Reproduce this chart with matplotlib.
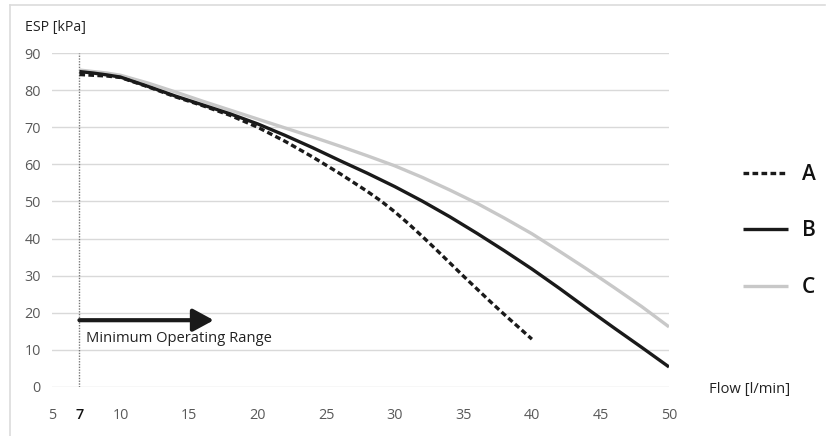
import matplotlib
matplotlib.use("Agg")
import matplotlib.pyplot as plt
from matplotlib.lines import Line2D

plt.rcParams['font.family'] = ['Open Sans', 'DejaVu Sans']

# Data
flow_a = [7, 8, 9, 10, 12, 14, 16, 18, 20, 22, 24, 26, 28, 29, 30, 31, 32, 33, 34, 35, 36, 37, 38, 39, 40]
esp_a = [84.2, 84.0, 83.8, 83.4, 80.9, 78.2, 75.8, 73.2, 70.0, 66.2, 62.0, 57.5, 52.7, 50.1,
         47.2, 44.0, 40.6, 37.1, 33.5, 29.9, 26.4, 22.9, 19.5, 16.2, 12.9]

flow_b = [7, 8, 9, 10, 12, 14, 16, 18, 20, 22, 24, 26, 28, 30, 32, 34, 36, 38, 40, 42, 44, 46, 48, 50]
esp_b = [85.0, 84.6, 84.1, 83.5, 81.0, 78.4, 76.0, 73.6, 70.9, 67.8, 64.5, 61.0, 57.6, 54.0,
         50.1, 45.9, 41.4, 36.7, 31.8, 26.6, 21.2, 15.9, 10.7, 5.4]

flow_c = [7, 8, 9, 10, 12, 14, 16, 18, 20, 22, 24, 26, 28, 30, 32, 34, 36, 38, 40, 42, 44, 46, 48, 50]
esp_c = [85.4, 85.0, 84.6, 84.0, 81.9, 79.5, 77.0, 74.6, 72.2, 69.8, 67.4, 64.9, 62.3, 59.6,
         56.5, 53.1, 49.5, 45.5, 41.3, 36.6, 31.8, 26.8, 21.7, 16.2]

x_ticks = [5, 7, 10, 15, 20, 25, 30, 35, 40, 45, 50]
y_ticks = [0, 10, 20, 30, 40, 50, 60, 70, 80, 90]
series_names = ['A', 'B', 'C']
min_flow = 7
arrow_end = 16.8
arrow_level = 18

fig = plt.figure(figsize=(8.27, 4.36), dpi=100)
ax = fig.add_axes([52 / 827, 1 - 387 / 436, (669 - 52) / 827, (387 - 53) / 436])

grid_c = '#d9d9d9'
for yv in y_ticks:
    ax.axhline(yv, color=grid_c, lw=1.0, zorder=0)

ax.plot([min_flow, min_flow], [0, 90], color='#777777', lw=1.0, linestyle=(0, (1, 1)), zorder=1)

ax.plot(flow_c, esp_c, color='#c8c8c8', lw=2.4, solid_capstyle='butt', solid_joinstyle='round',
        zorder=2, label=series_names[2])
ax.plot(flow_b, esp_b, color='#1a1a1a', lw=2.4, solid_capstyle='butt', solid_joinstyle='round',
        zorder=3, label=series_names[1])
ax.plot(flow_a, esp_a, color='#1a1a1a', lw=2.4, linestyle=(0, (1.7, 1.0)), zorder=4,
        label=series_names[0])

ax.annotate('', xy=(arrow_end, arrow_level), xytext=(min_flow, arrow_level),
            arrowprops=dict(arrowstyle='-|>,head_length=0.7,head_width=0.38', lw=3.0,
                            color='#1a1a1a', mutation_scale=18, shrinkA=0, shrinkB=0))
ax.text(7.45, 13.2, 'Minimum Operating Range', fontsize=10.6, color='#222222', va='center', ha='left')

ax.set_xlim(5, 50)
ax.set_ylim(0, 90)
ax.set_xticks(x_ticks)
ax.set_yticks(y_ticks)
ax.set_xticklabels([str(v) for v in x_ticks])
ax.set_yticklabels([str(v) for v in y_ticks])
ax.tick_params(axis='both', length=0, labelsize=10.4, labelcolor='#595959')
ax.tick_params(axis='x', pad=15)
ax.tick_params(axis='y', pad=8)
for lbl in ax.get_xticklabels():
    if lbl.get_text() == '7':
        lbl.set_color('#111111')
        lbl.set_fontweight('semibold')
for s in ax.spines.values():
    s.set_visible(False)

fig.text(25 / 827, 1 - 27 / 436, 'ESP [kPa]', fontsize=10.2, color='#222222', va='center', ha='left')
fig.text(709 / 827, 1 - 389 / 436, 'Flow [l/min]', fontsize=10.6, color='#222222', va='center', ha='left')

handles, labels = ax.get_legend_handles_labels()
order = [labels.index(n) for n in series_names]
leg = ax.legend([handles[i] for i in order], [labels[i] for i in order],
                loc='center left', bbox_to_anchor=(733 / 827, 1 - 231 / 436),
                bbox_transform=fig.transFigure, frameon=False,
                prop={'size': 15, 'weight': 'semibold'},
                handlelength=2.15, handletextpad=0.65, labelspacing=1.7, borderpad=0)
for t in leg.get_texts():
    t.set_color('#111111')

# light frame
fig.add_artist(Line2D([10 / 827, 10 / 827], [0, 1 - 5 / 436], color='#dcdcdc', lw=1.2, transform=fig.transFigure))
fig.add_artist(Line2D([10 / 827, 825 / 827], [1 - 5 / 436, 1 - 5 / 436], color='#dcdcdc', lw=1.2, transform=fig.transFigure))

fig.savefig('out.png', dpi=100)
